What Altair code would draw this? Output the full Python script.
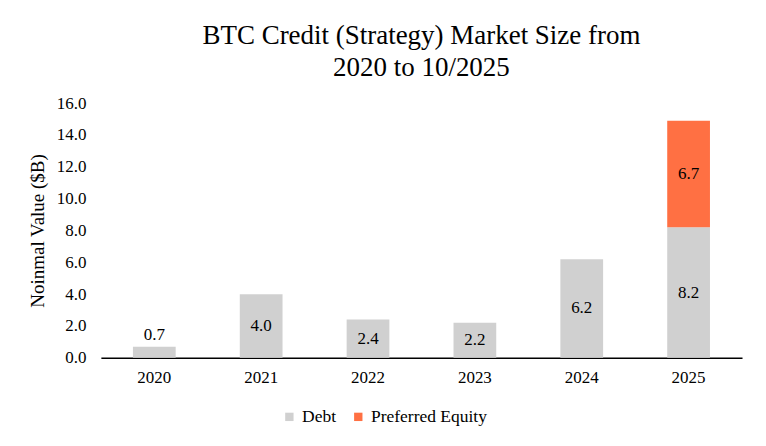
import altair as alt
import pandas as pd

years = ["2020", "2021", "2022", "2023", "2024", "2025"]
debt = [0.7, 4.0, 2.4, 2.2, 6.2, 8.2]
preferred = [0.0, 0.0, 0.0, 0.0, 0.0, 6.7]
series = ["Debt", "Preferred Equity"]
colors = ["#d0d0d0", "#ff7043"]
y_ticks = [0, 2, 4, 6, 8, 10, 12, 14, 16]

rows = []
for i, yr in enumerate(years):
    start = 0.0
    for s, vals, order in ((series[0], debt, 0), (series[1], preferred, 1)):
        v = vals[i]
        if v > 0:
            rows.append({"year": yr, "series": s, "value": v, "order": order,
                         "start": start, "end": start + v,
                         "mid": start + v / 2, "label": f"{v:.1f}"})
        start += v
df = pd.DataFrame(rows)

FONT = "Liberation Serif"
FS = 17

base = alt.Chart(df)

x_axis = alt.Axis(labelAngle=0, ticks=False, domainColor="black",
                  domainWidth=1.5, labelFont=FONT, labelFontSize=FS,
                  labelColor="black", labelPadding=12)
x_scale = alt.Scale(paddingInner=0.6, paddingOuter=0.3)

y_scale = alt.Scale(domain=[0, 16], nice=False)
y_axis = alt.Axis(values=y_ticks, format=".1f", grid=False, ticks=False,
                  domain=False, labelFont=FONT, labelFontSize=FS,
                  labelColor="black", labelPadding=15, labelOverlap=False,
                  titleFont=FONT, titleFontSize=19, titleFontWeight="normal",
                  titleColor="black", titlePadding=9)
Y_TITLE = "Noinmal Value ($B)"

bars = base.mark_bar().encode(
    x=alt.X("year:N", title=None, sort=years, scale=x_scale, axis=x_axis),
    y=alt.Y("start:Q", title=Y_TITLE, scale=y_scale, axis=y_axis),
    y2="end:Q",
    color=alt.Color("series:N", sort=series,
                    scale=alt.Scale(domain=series, range=colors),
                    legend=alt.Legend(orient="none", direction="horizontal",
                                      legendX=180, legendY=305,
                                      title=None, symbolType="square",
                                      symbolSize=70, labelFont=FONT, labelFontSize=17.5,
                                      labelColor="black", columnPadding=13,
                                      labelOffset=4, symbolStrokeWidth=0)),
)

inside = base.transform_filter("datum.value >= 1").mark_text(
    font=FONT, fontSize=FS, color="black", baseline="middle"
).encode(x=alt.X("year:N", title=None, sort=years, scale=x_scale, axis=x_axis),
         y=alt.Y("mid:Q", title=Y_TITLE, scale=y_scale, axis=y_axis), text="label:N")

outside = base.transform_filter("datum.value < 1").mark_text(
    font=FONT, fontSize=FS, color="black", baseline="bottom", dy=-3
).encode(x=alt.X("year:N", title=None, sort=years, scale=x_scale, axis=x_axis),
         y=alt.Y("end:Q", title=Y_TITLE, scale=y_scale, axis=y_axis), text="label:N")

chart = alt.layer(bars, inside, outside).properties(
    width=642, height=255,
    title=alt.TitleParams(["BTC Credit (Strategy) Market Size from", "2020 to 10/2025"],
                          font=FONT, fontSize=27, fontWeight="normal", color="black",
                          anchor="middle", lineHeight=32, offset=12),
    padding={"top": 14, "left": 20, "right": 16, "bottom": 8},
).configure(font=FONT).configure_view(stroke=None).configure_axis(
    labelFont=FONT, titleFont=FONT
).configure_legend(labelFont=FONT).configure_text(font=FONT)

chart.save("out.html", embed_options={"renderer": "svg", "actions": False})
